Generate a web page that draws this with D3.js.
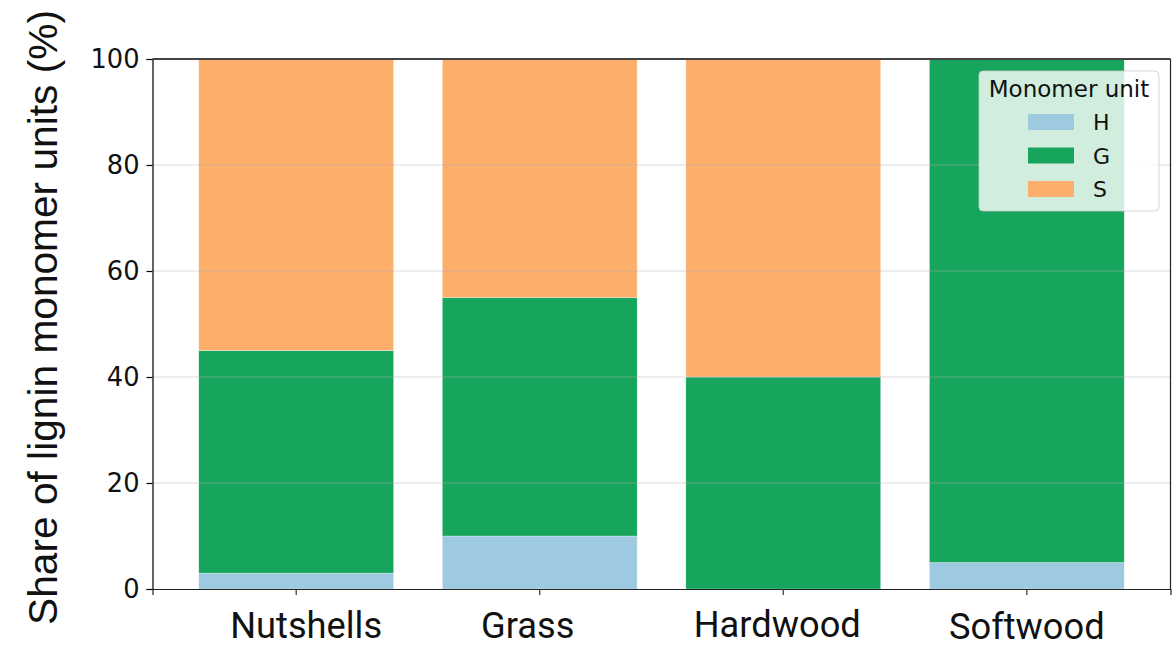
<!DOCTYPE html>
<html><head><meta charset="utf-8">
<script src="https://cdn.jsdelivr.net/npm/d3@7"></script>
<style>html,body{margin:0;padding:0;background:#fff;}svg{display:block;}</style>
</head><body>
<svg id="chart" width="1176" height="648"></svg>
<script>
const categories = ["Nutshells", "Grass", "Hardwood", "Softwood"];
const seriesNames = ["H", "G", "S"];
const H = [3, 10, 0, 5];
const G = [42, 45, 40, 95];
const S = [55, 45, 60, 0];
const yTicks = [0, 20, 40, 60, 80, 100];
const colors = ["#9ecae1", "#17a45d", "#fdae6b"];
const yLabel = "Share of lignin monomer units (%)";
const legendTitle = "Monomer unit";

const svg = d3.select("#chart");
const L = 152.5, R = 1170.5, T = 59, B = 589;

const x = d3.scaleBand().domain(categories).range([L, R]).paddingInner(0.2).paddingOuter(0.19);
const y = d3.scaleLinear().domain([0, 100]).range([B, T]);

const rows = categories.map((c, i) => ({cat: c, H: H[i], G: G[i], S: S[i]}));
const stack = d3.stack().keys(seriesNames)(rows);
const color = d3.scaleOrdinal().domain(seriesNames).range(colors);

// bars
svg.append("g").selectAll("g").data(stack).join("g")
  .attr("fill", d => color(d.key))
  .selectAll("rect").data(d => d).join("rect")
  .attr("x", d => x(d.data.cat))
  .attr("width", x.bandwidth())
  .attr("y", d => y(d[1]))
  .attr("height", d => y(d[0]) - y(d[1]))
  .attr("stroke", "#ffffff").attr("stroke-width", 0.5).attr("stroke-opacity", 0.6);

// gridlines (drawn faintly over bars)
svg.append("g").selectAll("line").data(yTicks.filter(t => t > 0 && t < 100)).join("line")
  .attr("x1", L).attr("x2", R)
  .attr("y1", d => y(d)).attr("y2", d => y(d))
  .attr("stroke", "#b0b0b0").attr("stroke-opacity", 0.3).attr("stroke-width", 1.5);

// y axis
const yAxis = d3.axisLeft(y).tickValues(yTicks).tickSize(6).tickPadding(7);
const gy = svg.append("g").attr("transform", `translate(${L},0)`).call(yAxis);
gy.select(".domain").attr("stroke", "#000").attr("stroke-width", 1.2);
gy.selectAll(".tick line").attr("stroke", "#000").attr("stroke-width", 1.2);
gy.selectAll(".tick text").attr("font-family", "DejaVu Sans").attr("font-size", 25.7).attr("fill", "#111");

// x axis
const xAxis = d3.axisBottom(x).tickSize(6).tickFormat("");
const gx = svg.append("g").attr("transform", `translate(0,${B})`).call(xAxis);
gx.select(".domain").attr("stroke", "#222").attr("stroke-width", 1.2);
gx.selectAll(".tick line").attr("stroke", "#333").attr("stroke-width", 1.2);

// top & right spines
svg.append("line").attr("x1", L).attr("x2", R).attr("y1", T).attr("y2", T)
  .attr("stroke", "#444").attr("stroke-width", 2);
svg.append("line").attr("x1", R).attr("x2", R).attr("y1", T).attr("y2", B)
  .attr("stroke", "#222").attr("stroke-width", 1.2);

// category labels (placed slightly off-centre, as in the reference)
const catFont = "Roboto, 'Open Sans', sans-serif";
const probe = svg.append("text").attr("font-family", catFont).attr("font-size", 100).text(categories[0]);
const catSize = 100 * 152 / probe.node().getComputedTextLength();
probe.remove();
const catLayout = {Nutshells: [10, 638], Grass: [-12, 638], Hardwood: [-6, 637], Softwood: [0, 639]};
svg.append("g").selectAll("text").data(categories).join("text")
  .attr("x", d => x(d) + x.bandwidth() / 2 + catLayout[d][0])
  .attr("y", d => catLayout[d][1])
  .attr("text-anchor", "middle")
  .attr("font-family", catFont).attr("font-size", catSize).attr("fill", "#111")
  .text(d => d);

// y label
const ylFont = "'Liberation Sans', Arial, sans-serif";
const yl = svg.append("text").attr("font-family", ylFont).attr("font-size", 100).text(yLabel);
const ylSize = 100 * 615 / yl.node().getComputedTextLength();
yl.attr("font-size", ylSize).attr("text-anchor", "middle").attr("fill", "#111")
  .attr("transform", `translate(57,317.5) rotate(-90)`);

// legend
const lg = svg.append("g");
lg.append("rect").attr("x", 979).attr("y", 71).attr("width", 180).attr("height", 140)
  .attr("rx", 4).attr("fill", "#ffffff").attr("fill-opacity", 0.8)
  .attr("stroke", "#cccccc").attr("stroke-opacity", 0.8).attr("stroke-width", 1);
lg.append("text").attr("x", 1069).attr("y", 97).attr("text-anchor", "middle")
  .attr("font-family", "DejaVu Sans").attr("font-size", 23).attr("fill", "#111").text(legendTitle);
const ly = d3.scalePoint().domain(seriesNames).range([122, 189]);
lg.selectAll("rect.k").data(seriesNames).join("rect").attr("class", "k")
  .attr("x", 1028).attr("width", 46).attr("y", d => ly(d) - 8).attr("height", 16)
  .attr("fill", d => color(d));
lg.selectAll("text.k").data(seriesNames).join("text").attr("class", "k")
  .attr("x", 1093).attr("y", d => ly(d) + 8)
  .attr("font-family", "DejaVu Sans").attr("font-size", 22).attr("fill", "#111").text(d => d);
</script>
</body></html>
